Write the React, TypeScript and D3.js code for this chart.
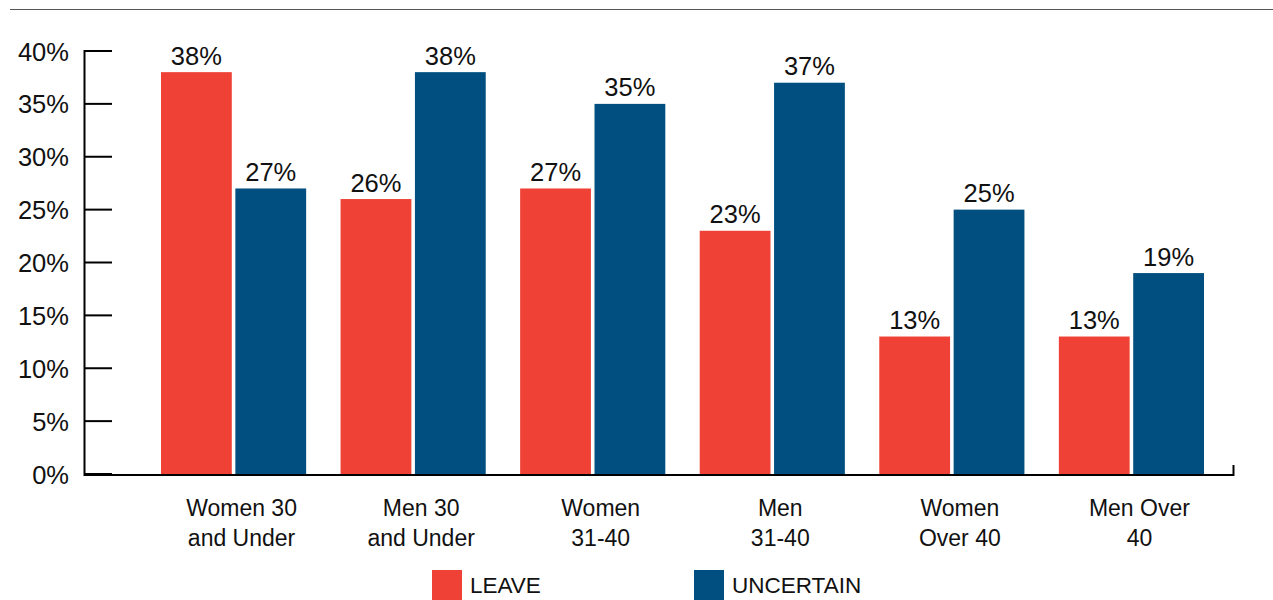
import React from "react";
import * as d3 from "d3";

const categories = [
  ["Women 30", "and Under"],
  ["Men 30", "and Under"],
  ["Women", "31-40"],
  ["Men", "31-40"],
  ["Women", "Over 40"],
  ["Men Over", "40"],
];
const seriesNames = ["LEAVE", "UNCERTAIN"];
const leaveValues = [38, 26, 27, 23, 13, 13];
const uncertainValues = [27, 38, 35, 37, 25, 19];
const yTicks = [0, 5, 10, 15, 20, 25, 30, 35, 40];

const COLORS = ["#EF4136", "#004F80"];
const FONT = "'Liberation Sans', Arial, Helvetica, sans-serif";

export default function App() {
  const W = 1273;
  const H = 600;
  const keys = categories.map((c) => c.join(" "));
  const x0 = d3.scaleBand<string>().domain(keys).range([161, 1204]).paddingInner(0.1917).paddingOuter(0);
  const x1 = d3.scaleBand<string>().domain(seriesNames).range([0, x0.bandwidth()]).paddingInner(0.048);
  const y = d3.scaleLinear().domain([0, 40]).range([474, 51]);
  const series = [leaveValues, uncertainValues];

  return (
    <svg width={W} height={H} style={{ position: "absolute", left: 0, top: 0 }} fontFamily={FONT}>
      <line x1={10} x2={W} y1={9.5} y2={9.5} stroke="#555" strokeWidth={1} />
      {/* bars */}
      {keys.map((k, i) => (
        <g key={k}>
          {seriesNames.map((s, j) => {
            const v = series[j][i];
            const bx = x0(k)! + x1(s)!;
            return (
              <g key={s}>
                <rect x={bx} y={y(v)} width={x1.bandwidth()} height={y(0) - y(v)} fill={COLORS[j]} />
                <text x={bx + x1.bandwidth() / 2} y={y(v) - 7.5} textAnchor="middle" fontSize={25.5} fill="#111">
                  {v}%
                </text>
              </g>
            );
          })}
          {categories[i].map((line, li) => (
            <text
              key={li}
              x={x0(k)! + x0.bandwidth() / 2 + 8}
              y={516 + li * 29.5}
              textAnchor="middle"
              fontSize={23}
              fill="#111"
            >
              {line}
            </text>
          ))}
        </g>
      ))}
      {/* y axis */}
      <line x1={84.5} x2={84.5} y1={y(40) - 1} y2={y(0) + 2} stroke="#000" strokeWidth={2} />
      {yTicks.map((t) => (
        <g key={t}>
          <line x1={84} x2={112} y1={y(t)} y2={y(t)} stroke="#000" strokeWidth={2} />
          <text x={69} y={y(t) + 9.5} textAnchor="end" fontSize={25.5} fill="#111">
            {t}%
          </text>
        </g>
      ))}
      {/* x baseline */}
      <line x1={84} x2={1234} y1={y(0) + 1} y2={y(0) + 1} stroke="#000" strokeWidth={2} />
      <line x1={1233.5} x2={1233.5} y1={465} y2={y(0) + 2} stroke="#000" strokeWidth={2} />
      {/* legend */}
      {seriesNames.map((s, j) => {
        const lx = [432, 694][j];
        return (
          <g key={s}>
            <rect x={lx} y={570} width={30} height={30} fill={COLORS[j]} />
            <text x={lx + 38} y={593} fontSize={22.5} fill="#111">
              {s}
            </text>
          </g>
        );
      })}
    </svg>
  );
}
